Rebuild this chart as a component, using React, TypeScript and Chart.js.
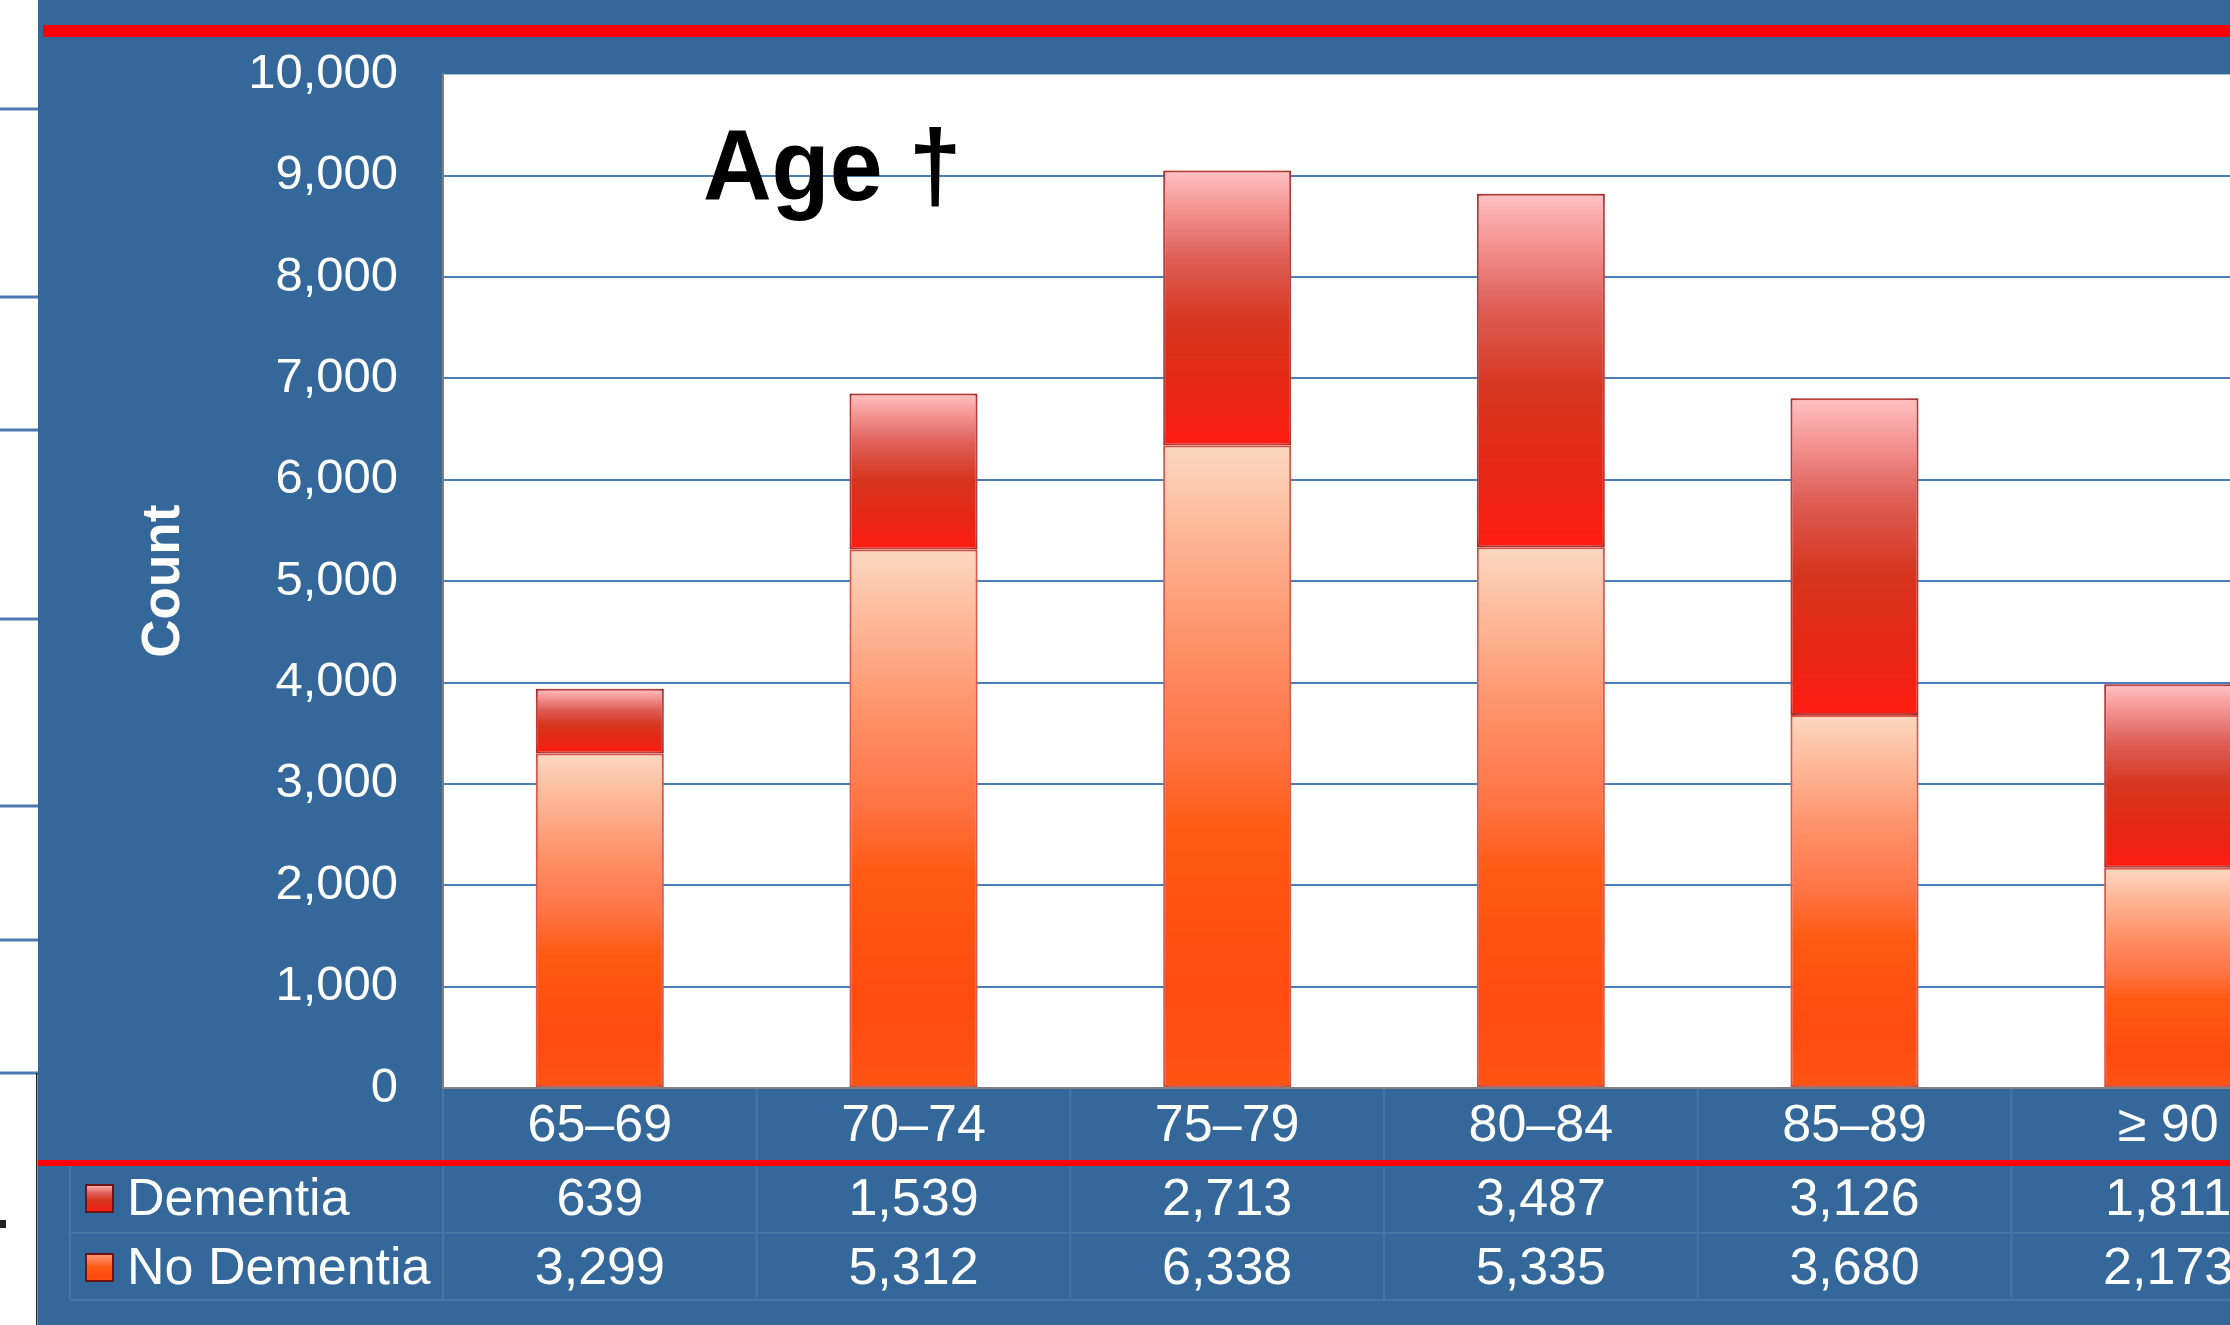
import React, { useEffect, useRef } from 'react';
import { Chart, registerables } from 'chart.js';

Chart.register(...registerables);

// ---- data ----
const categories = ['65–69', '70–74', '75–79', '80–84', '85–89', '≥ 90'];
const dementia = [639, 1539, 2713, 3487, 3126, 1811];
const noDementia = [3299, 5312, 6338, 5335, 3680, 2173];
const seriesLabels = ['Dementia', 'No Dementia'];
const yMin = 0;
const yMax = 10000;
const yStep = 1000;
const chartTitle = 'Age †';
const yTitle = 'Count';

const FONT = '"Liberation Sans", Arial, Helvetica, sans-serif';
const BLUE = '#34679A';
const RED = '#FF0000';

const fmt = (v: number) => Number(v).toLocaleString('en-US');

function dementiaGradient(ctx: CanvasRenderingContext2D, top: number, bottom: number) {
  const g = ctx.createLinearGradient(0, top, 0, bottom);
  g.addColorStop(0, '#FFC2C2');
  g.addColorStop(0.1, '#F8A0A0');
  g.addColorStop(0.32, '#DE5E56');
  g.addColorStop(0.55, '#D6361F');
  g.addColorStop(0.8, '#E72614');
  g.addColorStop(1, '#FF1C10');
  return g;
}

function noDementiaGradient(ctx: CanvasRenderingContext2D, top: number, bottom: number) {
  const g = ctx.createLinearGradient(0, top, 0, bottom);
  g.addColorStop(0, '#FBD8C0');
  g.addColorStop(0.1, '#FDC0A2');
  g.addColorStop(0.3, '#FF926A');
  g.addColorStop(0.48, '#FF7242');
  g.addColorStop(0.6, '#FF5A12');
  g.addColorStop(0.85, '#FF4A10');
  g.addColorStop(1, '#FF5414');
  return g;
}

const backdropPlugin = {
  id: 'backdrop',
  beforeDraw(chart: any) {
    const { ctx, chartArea: a, width, height } = chart;
    ctx.save();
    ctx.fillStyle = '#FFFFFF';
    ctx.fillRect(0, 0, width, height);
    // remnants of neighbouring slide on the left
    ctx.fillStyle = '#4A7AB0';
    for (const y of [109, 297, 430, 619, 806, 940, 1073]) ctx.fillRect(0, y - 1.5, 38, 3);
    ctx.fillStyle = '#222';
    ctx.fillRect(36, 1073, 1.5, height - 1073);
    ctx.fillRect(0, 1220, 6, 8);
    // blue panel
    ctx.fillStyle = BLUE;
    ctx.fillRect(38, 0, width - 38, height);
    // top red rule
    ctx.fillStyle = RED;
    ctx.fillRect(43, 25, width - 43, 12);
    // plot area
    ctx.fillStyle = '#FFFFFF';
    ctx.fillRect(a.left, a.top, a.right - a.left, a.bottom - a.top);
    ctx.restore();
  },
};

const glowPlugin = {
  id: 'glow',
  beforeDatasetsDraw(chart: any) {
    const ctx = chart.ctx;
    ctx.save();
    ctx.shadowColor = 'rgba(255,140,140,0.8)';
    ctx.shadowBlur = 12;
  },
  afterDatasetsDraw(chart: any) {
    chart.ctx.restore();
  },
};

function legendSquare(ctx: CanvasRenderingContext2D, x: number, y: number, s: number, kind: number) {
  const g = kind === 0 ? dementiaGradient(ctx, y, y + s) : noDementiaGradient(ctx, y - s * 0.3, y + s);
  ctx.fillStyle = '#6E1414';
  ctx.fillRect(x, y, s, s);
  ctx.fillStyle = g;
  ctx.fillRect(x + 2, y + 2, s - 4, s - 4);
}

const overlayPlugin = {
  id: 'overlay',
  afterDraw(chart: any) {
    const { ctx, chartArea: a, width, scales } = chart;
    const x = scales.x;
    const n = categories.length;
    const step = (x.right - x.left) / n;
    const b = a.bottom;
    ctx.save();

    // title inside the plot
    ctx.fillStyle = '#000';
    ctx.font = `bold 100px ${FONT}`;
    ctx.textAlign = 'left';
    ctx.textBaseline = 'alphabetic';
    ctx.save();
    ctx.translate(703, 200);
    ctx.scale(0.95, 1);
    ctx.fillText(chartTitle, 0, 0);
    ctx.restore();

    // table grid lines
    ctx.strokeStyle = 'rgba(255,255,255,0.09)';
    ctx.lineWidth = 2;
    ctx.beginPath();
    for (let k = 0; k <= n; k++) {
      const px = x.left + k * step;
      ctx.moveTo(px, b + 1);
      ctx.lineTo(px, b + 212);
    }
    ctx.moveTo(70, b + 78);
    ctx.lineTo(70, b + 212);
    ctx.moveTo(70, b + 145);
    ctx.lineTo(width, b + 145);
    ctx.moveTo(70, b + 212);
    ctx.lineTo(width, b + 212);
    ctx.stroke();

    // red rule under the category labels
    ctx.fillStyle = RED;
    ctx.fillRect(38, b + 72, width - 38, 6);

    // row labels
    const rows = [
      { label: seriesLabels[0], values: dementia, base: b + 127 },
      { label: seriesLabels[1], values: noDementia, base: b + 196 },
    ];
    ctx.font = `52px ${FONT}`;
    ctx.fillStyle = '#FFFFFF';
    rows.forEach((r, ri) => {
      legendSquare(ctx, 85, r.base - 31, 29, ri);
      ctx.fillStyle = '#FFFFFF';
      ctx.textAlign = 'left';
      ctx.fillText(r.label, 127, r.base);
      ctx.textAlign = 'center';
      r.values.forEach((v, i) => {
        ctx.fillText(fmt(v), x.getPixelForValue(i), r.base);
      });
    });
    ctx.restore();
  },
};

export default function App() {
  const ref = useRef<HTMLCanvasElement>(null);

  useEffect(() => {
    const canvas = ref.current;
    if (!canvas) return;

    const segBounds = (c: any) => {
      const chart = c.chart;
      const i = c.dataIndex;
      if (!chart.chartArea || i === undefined || !chart.scales.y) return null;
      const y = chart.scales.y;
      if (c.datasetIndex === 0) {
        return [y.getPixelForValue(noDementia[i]), y.getPixelForValue(0)];
      }
      return [y.getPixelForValue(noDementia[i] + dementia[i]), y.getPixelForValue(noDementia[i])];
    };

    const chart = new Chart(canvas, {
      type: 'bar',
      data: {
        labels: categories,
        datasets: [
          {
            label: seriesLabels[1],
            data: noDementia,
            backgroundColor: (c: any) => {
              const bb = segBounds(c);
              if (!bb) return '#FF5A12';
              return noDementiaGradient(c.chart.ctx, bb[0], bb[1]);
            },
            borderColor: '#C8402E',
            borderWidth: 2,
            borderSkipped: false,
            barPercentage: 0.408,
            categoryPercentage: 1,
          },
          {
            label: seriesLabels[0],
            data: dementia,
            backgroundColor: (c: any) => {
              const bb = segBounds(c);
              if (!bb) return '#D6361F';
              return dementiaGradient(c.chart.ctx, bb[0], bb[1]);
            },
            borderColor: '#8E1A1A',
            borderWidth: 2,
            borderSkipped: false,
            barPercentage: 0.408,
            categoryPercentage: 1,
          },
        ],
      },
      options: {
        responsive: false,
        animation: false,
        devicePixelRatio: 1,
        layout: { padding: { top: 73, right: 15, bottom: 0, left: 0 } },
        plugins: {
          legend: { display: false },
          tooltip: { enabled: false },
          title: { display: false },
        },
        scales: {
          x: {
            stacked: true,
            grid: { display: false, drawTicks: false },
            border: { display: true, color: '#808080', width: 2 },
            ticks: {
              color: '#FFFFFF',
              font: { size: 52, family: FONT },
              padding: 7,
              maxRotation: 0,
              autoSkip: false,
            },
            afterFit: (s: any) => {
              s.height = 237;
            },
          },
          y: {
            stacked: true,
            min: yMin,
            max: yMax,
            grid: {
              color: (c: any) =>
                c.tick && (c.tick.value === yMin || c.tick.value === yMax) ? 'rgba(0,0,0,0)' : '#4A7EBB',
              lineWidth: 2,
              drawTicks: false,
            },
            border: { display: true, color: '#808080', width: 2 },
            ticks: {
              stepSize: yStep,
              color: '#FFFFFF',
              font: { size: 49, family: FONT },
              padding: 45,
              callback: (v: any) => fmt(v),
            },
            title: {
              display: true,
              text: yTitle,
              color: '#FFFFFF',
              font: { size: 53, weight: 'bold', family: FONT },
              padding: { top: 133, bottom: 0 },
            },
            afterFit: (s: any) => {
              s.width = 443;
            },
          },
        },
      },
      plugins: [backdropPlugin, glowPlugin, overlayPlugin],
    } as any);

    return () => chart.destroy();
  }, []);

  return (
    <div
      style={{
        position: 'fixed',
        left: 0,
        top: 0,
        width: 2230,
        height: 1325,
        overflow: 'hidden',
        background: '#FFFFFF',
      }}
    >
      <canvas ref={ref} width={2340} height={1325} style={{ display: 'block', width: 2340, height: 1325 }} />
    </div>
  );
}
